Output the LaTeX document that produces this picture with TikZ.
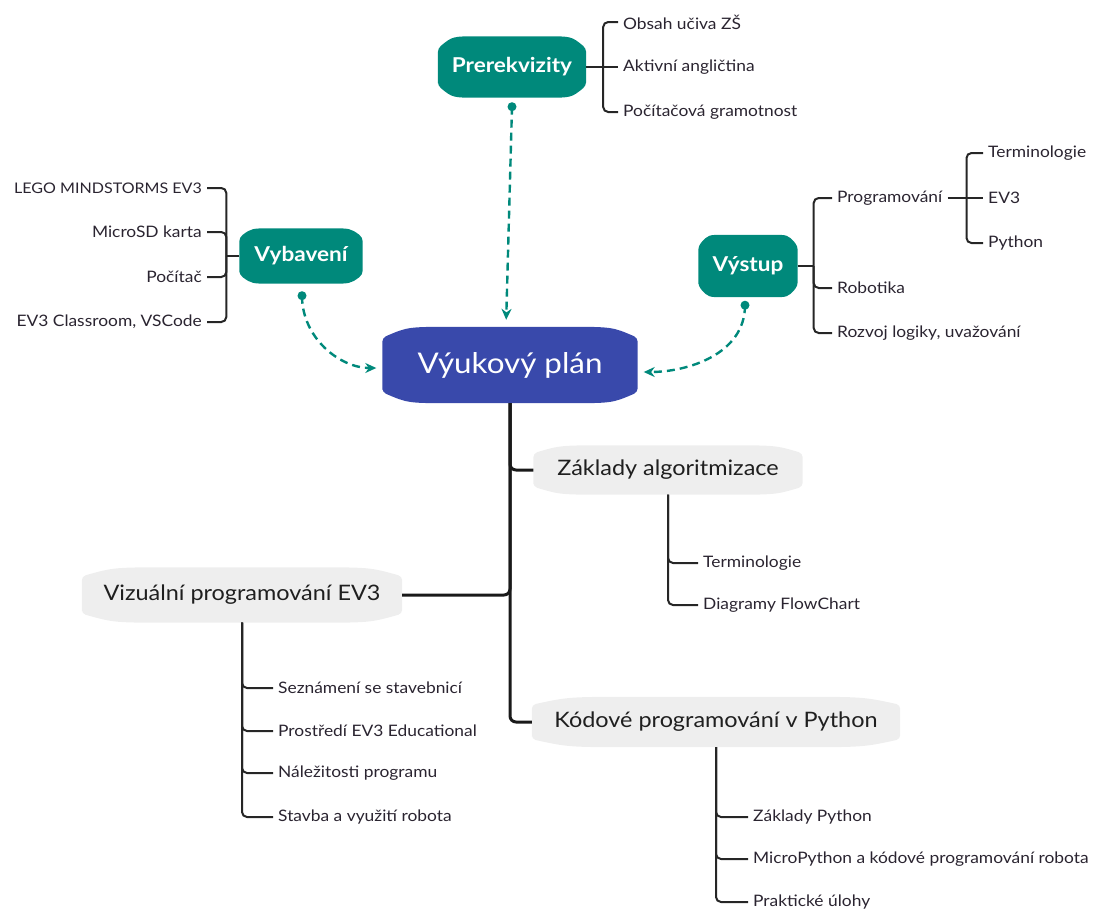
\documentclass[tikz,border=0pt]{standalone}
\usepackage{fontspec}
\setmainfont{Lato}[FakeStretch=1.1]
\usetikzlibrary{arrows.meta,backgrounds,calc,positioning}
\definecolor{tealmap}{HTML}{00897B}
\definecolor{planblue}{HTML}{3949AB}
\definecolor{topicgray}{HTML}{EEEEEE}
\definecolor{leafink}{HTML}{2A2430}
% filled bubble behind a node: #1 node, #2 colour, #3 bulge
\newcommand{\bubble}[3]{%
  \fill[#2, rounded corners=4pt] ([yshift=#3]#1.south west) -- ([yshift=-#3]#1.north west)
    .. controls ($(#1.north west)!0.1!(#1.north east)$) .. ($(#1.north west)!0.3!(#1.north east)$)
    -- ($(#1.north west)!0.7!(#1.north east)$)
    .. controls ($(#1.north west)!0.9!(#1.north east)$) .. ([yshift=-#3]#1.north east)
    -- ([yshift=#3]#1.south east)
    .. controls ($(#1.south west)!0.9!(#1.south east)$) .. ($(#1.south west)!0.7!(#1.south east)$)
    -- ($(#1.south west)!0.3!(#1.south east)$)
    .. controls ($(#1.south west)!0.1!(#1.south east)$) .. cycle;}
\tikzset{
  planbox/.style={text=white, font=\fontsize{28.5}{33}\selectfont, inner sep=0pt},
  hub/.style={text=white, font=\bfseries\fontsize{20.5}{24}\selectfont, inner sep=0pt},
  topic/.style={text=black!88, font=\fontsize{21.3}{25}\selectfont, inner sep=0pt},
  leafr/.style={anchor=west, text=leafink, font=\fontsize{15.8}{18}\selectfont, inner xsep=5pt, inner ysep=0pt},
  leafl/.style={leafr, anchor=east},
  leafline/.style={draw=black!85, line width=2pt, rounded corners=5pt},
  trunk/.style={draw=black!90, line width=3pt, rounded corners=6pt},
  dashlink/.style={draw=tealmap, line width=2.4pt, dash pattern=on 8pt off 5pt,
    -{Stealth[length=11pt,width=10pt]}}
}
\begin{document}
\begin{tikzpicture}[x=1pt,y=1pt]
  \useasboundingbox (0,0) rectangle (1098,-911);

  % main nodes
  \node[planbox, minimum width=255pt, minimum height=76pt] (plan) at (510,-365) {Výukový plán};
  \node[hub, minimum width=148pt, minimum height=61pt] (pre) at (512,-67) {Prerekvizity};
  \node[hub, minimum width=123pt, minimum height=55pt] (vyb) at (301,-256) {Vybavení};
  \node[hub, minimum width=99pt, minimum height=62pt] (vys) at (748,-266) {Výstup};
  \node[topic, minimum width=269pt, minimum height=49pt] (zak) at (668,-470) {Základy algoritmizace};
  \node[topic, minimum width=320pt, minimum height=55pt] (viz) at (242,-595) {Vizuální programování EV3};
  \node[topic, minimum width=368pt, minimum height=50pt] (kod) at (716,-722) {Kódové programování v Python};

  \begin{scope}[on background layer]
    \bubble{plan}{planblue}{11pt}
    \bubble{pre}{tealmap}{12pt}
    \bubble{vyb}{tealmap}{9pt}
    \bubble{vys}{tealmap}{11pt}
    \bubble{zak}{topicgray}{8pt}
    \bubble{viz}{topicgray}{9pt}
    \bubble{kod}{topicgray}{8pt}
  \end{scope}

  % Prerekvizity
  \node[leafr] (pre1) at (618,-22) {Obsah učiva ZŠ};
  \node[leafr] (pre2) at (618,-67) {Aktivní angličtina};
  \node[leafr] (pre3) at (618,-112) {Počítačová gramotnost};
  \draw[leafline] (pre.east) -- ++(17,0) coordinate (preJ);
  \draw[leafline] (preJ) |- (pre1.west);
  \draw[leafline] (preJ) -- (pre2.west);
  \draw[leafline] (preJ) |- (pre3.west);

  % Vybaveni
  \node[leafl, font=\fontsize{14.6}{18}\selectfont] (vyb1) at (207,-188) {LEGO MINDSTORMS EV3};
  \node[leafl] (vyb2) at (207,-232) {MicroSD karta};
  \node[leafl] (vyb3) at (207,-277) {Počítač};
  \node[leafl] (vyb4) at (207,-322) {EV3 Classroom, VSCode};
  \draw[leafline] (vyb.west) -- ++(-13,0) coordinate (vybJ);
  \draw[leafline] (vybJ) |- (vyb1.east);
  \draw[leafline] (vybJ) |- (vyb2.east);
  \draw[leafline] (vybJ) |- (vyb3.east);
  \draw[leafline] (vybJ) |- (vyb4.east);

  % Vystup
  \node[leafr] (prog) at (832,-198) {Programování};
  \node[leafr] (vys2) at (832,-288) {Robotika};
  \node[leafr] (vys3) at (832,-333) {Rozvoj logiky, uvažování};
  \draw[leafline] (vys.east) -- ++(16,0) coordinate (vysJ);
  \draw[leafline] (vysJ) |- (prog.west);
  \draw[leafline] (vysJ) |- (vys2.west);
  \draw[leafline] (vysJ) |- (vys3.west);
  \node[leafr] (prog1) at (983,-153) {Terminologie};
  \node[leafr] (prog2) at (983,-198) {EV3};
  \node[leafr] (prog3) at (983,-243) {Python};
  \draw[leafline] (prog.east) -- ++(19,0) coordinate (progJ);
  \draw[leafline] (progJ) |- (prog1.west);
  \draw[leafline] (progJ) -- (prog2.west);
  \draw[leafline] (progJ) |- (prog3.west);

  % dashed links into the plan
  \coordinate (preDot) at ([yshift=-9pt]pre.south);
  \coordinate (vybDot) at ([xshift=1pt,yshift=-12pt]vyb.south);
  \coordinate (vysDot) at ([xshift=-3pt,yshift=-8pt]vys.south);
  \fill[tealmap] (preDot) circle (4.5pt);
  \fill[tealmap] (vybDot) circle (4.5pt);
  \fill[tealmap] (vysDot) circle (4.5pt);
  \draw[dashlink, shorten >=7pt] (preDot) -- ([xshift=-4pt]plan.north);
  \draw[dashlink, shorten >=6pt] (vybDot) to[out=-90,in=180] ([yshift=-3pt]plan.west);
  \draw[dashlink, shorten >=6pt] (vysDot) to[out=-90,in=0] ([yshift=-7pt]plan.east);

  % trunk
  \draw[trunk] (plan.south) |- (zak.west);
  \draw[trunk] (plan.south) |- (viz.east);
  \draw[trunk] (plan.south) |- (kod.west);

  % Zaklady algoritmizace
  \node[leafr] (zak1) at (698,-563) {Terminologie};
  \node[leafr] (zak2) at (698,-605) {Diagramy FlowChart};
  \draw[leafline] (zak.south) |- (zak1.west);
  \draw[leafline] (zak.south) |- (zak2.west);

  % Vizualni programovani
  \node[leafr] (viz1) at (273,-688) {Seznámení se stavebnicí};
  \node[leafr] (viz2) at (273,-731) {Prostředí EV3 Educational};
  \node[leafr] (viz3) at (273,-773) {Náležitosti programu};
  \node[leafr] (viz4) at (273,-817) {Stavba a využití robota};
  \draw[leafline] (viz.south) |- (viz1.west);
  \draw[leafline] (viz.south) |- (viz2.west);
  \draw[leafline] (viz.south) |- (viz3.west);
  \draw[leafline] (viz.south) |- (viz4.west);

  % Kodove programovani
  \node[leafr] (kod1) at (748,-817) {Základy Python};
  \node[leafr] (kod2) at (748,-859) {MicroPython a kódové programování robota};
  \node[leafr] (kod3) at (748,-902) {Praktické úlohy};
  \draw[leafline] (kod.south) |- (kod1.west);
  \draw[leafline] (kod.south) |- (kod2.west);
  \draw[leafline] (kod.south) |- (kod3.west);
\end{tikzpicture}
\end{document}
